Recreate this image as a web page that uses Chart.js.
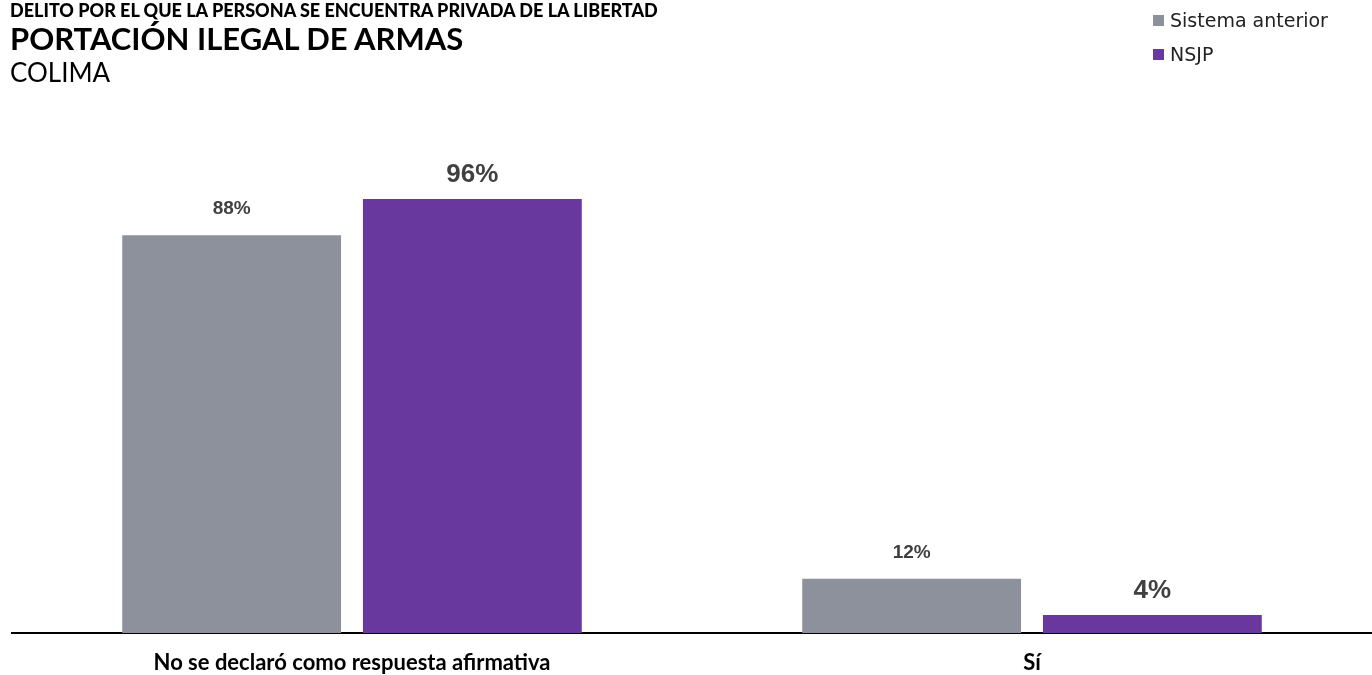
<!DOCTYPE html>
<html>
<head>
<meta charset="utf-8">
<script src="https://cdn.jsdelivr.net/npm/chart.js@4.4.0/dist/chart.umd.min.js"></script>
<style>
    body { margin: 0; background: #fff; }
    .wrap { position: relative; width: 1372px; height: 675px; }
    #chart { position: absolute; left: 0; top: 0; }
    .head { position: absolute; left: 10px; top: 0; font-family: Lato, sans-serif; color: #000; }
    .head .t1 { font-weight: 900; font-size: 18px; line-height: 20px; letter-spacing: 0; }
    .head .t2 { font-weight: 700; font-size: 31px; line-height: 36px; }
    .head .t3 { font-weight: 400; font-size: 26px; line-height: 32px; }
    .legend { position: absolute; left: 1153px; top: 3px; font-family: "DejaVu Sans", sans-serif; font-size: 19px; color: #222; }
    .legend div { height: 34px; display: flex; align-items: center; }
    .legend span { display: inline-block; width: 11px; height: 11px; margin-right: 6px; }
</style>
</head>
<body>
<div class="wrap">
    <canvas id="chart" width="1372" height="675"></canvas>
    <div class="head">
        <div class="t1">DELITO POR EL QUE LA PERSONA SE ENCUENTRA PRIVADA DE LA LIBERTAD</div>
        <div class="t2">PORTACIÓN ILEGAL DE ARMAS</div>
        <div class="t3">COLIMA</div>
    </div>
    <div class="legend" id="legend"></div>
</div>
<script>
const categories = ["No se declaró como respuesta afirmativa", "Sí"];
const seriesNames = ["Sistema anterior", "NSJP"];
const anterior = [88, 12];
const nsjp = [96, 4];
const colors = ["#8d919c", "#68389f"];

// leyenda en html
let lg = "";
for (let i = 0; i < seriesNames.length; i++) {
    lg += "<div><span style='background:" + colors[i] + "'></span>" + seriesNames[i] + "</div>";
}
document.getElementById("legend").innerHTML = lg;

// etiquetas de valor sobre las barras
const valueLabels = {
    id: "valueLabels",
    afterDatasetsDraw(chart) {
        const ctx = chart.ctx;
        ctx.save();
        ctx.textAlign = "center";
        ctx.textBaseline = "alphabetic";
        ctx.fillStyle = "#404040";
        chart.data.datasets.forEach(function (ds, i) {
            const meta = chart.getDatasetMeta(i);
            ctx.font = i == 0 ? "bold 19px 'Liberation Sans', Arial" : "bold 26px 'Liberation Sans', Arial";
            meta.data.forEach(function (bar, j) {
                const off = i == 0 ? 21 : 17;
                ctx.fillText(ds.data[j] + "%", bar.x, bar.y - off);
            });
        });
        ctx.restore();
    }
};

new Chart(document.getElementById("chart"), {
    type: "bar",
    data: {
        labels: categories,
        datasets: [
            { label: seriesNames[0], data: anterior, backgroundColor: colors[0] },
            { label: seriesNames[1], data: nsjp, backgroundColor: colors[1] }
        ]
    },
    options: {
        responsive: false,
        animation: false,
        categoryPercentage: 0.708,
        barPercentage: 0.909,
        layout: { padding: { top: 181, left: 12, right: 0, bottom: 0 } },
        plugins: {
            legend: { display: false },
            tooltip: { enabled: false }
        },
        scales: {
            y: { display: false, min: 0, max: 100 },
            x: {
                grid: { display: false },
                border: { display: true, color: "#000", width: 2 },
                ticks: {
                    color: "#000",
                    padding: 9,
                    font: { family: "Lato", weight: "bold", size: 22 }
                },
                afterFit: function (s) { s.height = 42; }
            }
        }
    },
    plugins: [valueLabels]
});
</script>
</body>
</html>
